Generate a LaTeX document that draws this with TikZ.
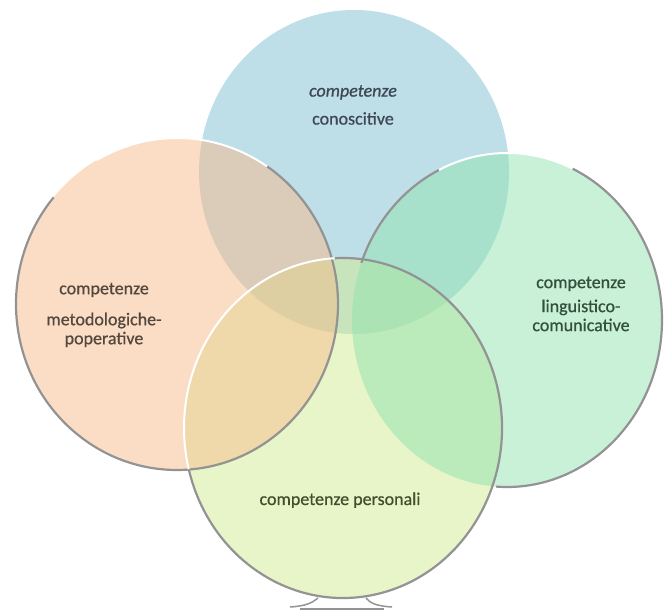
\documentclass[tikz,border=0pt]{standalone}
\usepackage{fontspec}
\setmainfont{Carlito}
\newfontfamily\circfont[FakeBold=0.7]{Carlito}
\usetikzlibrary{math}
\definecolor{cblue}{RGB}{125,189,209}
\definecolor{corange}{RGB}{247,187,139}
\definecolor{cgreen}{RGB}{145,227,175}
\definecolor{clime}{RGB}{209,235,145}
\definecolor{tblue}{RGB}{62,72,82}
\definecolor{torange}{RGB}{84,72,62}
\definecolor{tgreen}{RGB}{50,80,60}
\definecolor{tlime}{RGB}{64,80,46}

\begin{document}
\begin{tikzpicture}[x=1pt, y=1pt,
  disc/.style={fill opacity=0.5},
  rim/.style={draw=gray!85, line width=2.2pt},
  glint/.style={draw=white, line width=2pt},
  ctext/.style={font=\circfont\fontsize{18}{19}\selectfont, align=center, inner sep=0pt}]
\tikzmath{
\rxb=155; \ryb=162;
\rxo=161; \ryo=166;
\rxg=155; \ryg=167;
\rxl=159; \ryl=170;
}
\useasboundingbox (0,0) rectangle (664,610);
\coordinate (cono) at (354,438);
\coordinate (meto) at (177,306);
\coordinate (ling) at (507,290);
\coordinate (pers) at (343,182);

%discs
\fill[cblue, disc] (cono) ellipse [x radius=\rxb, y radius=\ryb];
\fill[clime, disc] (pers) ellipse [x radius=\rxl, y radius=\ryl];
\fill[cgreen, disc] (ling) ellipse [x radius=\rxg, y radius=\ryg];
\fill[corange, disc] (meto) ellipse [x radius=\rxo, y radius=\ryo];

%rims
\draw[rim] (meto) ++({\rxo*cos(140)},{\ryo*sin(140)}) arc[start angle=140, end angle=416, x radius=\rxo, y radius=\ryo];
\draw[glint] (meto) ++({\rxo*cos(56)},{\ryo*sin(56)}) arc[start angle=56, end angle=120, x radius=\rxo, y radius=\ryo];
\draw[rim] (ling) ++({\rxg*cos(116)},{\ryg*sin(116)}) arc[start angle=116, end angle=160, x radius=\rxg, y radius=\ryg];
\draw[rim] (ling) ++({\rxg*cos(266)},{\ryg*sin(266)}) arc[start angle=266, end angle=425, x radius=\rxg, y radius=\ryg];
\draw[glint] (ling) ++({\rxg*cos(65)},{\ryg*sin(65)}) arc[start angle=65, end angle=116, x radius=\rxg, y radius=\ryg];
\draw[rim] (pers) ++({\rxl*cos(194)},{\ryl*sin(194)}) arc[start angle=194, end angle=453, x radius=\rxl, y radius=\ryl];
\draw[glint] (pers) ++({\rxl*cos(93)},{\ryl*sin(93)}) arc[start angle=93, end angle=194, x radius=\rxl, y radius=\ryl];

%foot
\draw[rim, line width=1.5pt] (290,3) .. controls (306,4) and (312,7) .. (318,12);
\draw[rim, line width=1.5pt] (392,3) .. controls (376,4) and (370,7) .. (366,12);
\draw[rim, line width=1.5pt] (300,1) -- (384,1);

%texts
\node[ctext, text=tblue] (conoscitive) at (353,505) {\textit{competenze}\\[9pt]conoscitive};
\node[ctext, text=torange] (metodologiche) at (104,295) {competenze\\[12pt]metodologiche-\\poperative};
\node[ctext, text=tgreen] (linguistico) at (581,306) {competenze\\[5pt]linguistico-\\comunicative};
\node[ctext, text=tlime, anchor=base] (personali) at (340,105) {competenze personali};
\end{tikzpicture}
\end{document}
